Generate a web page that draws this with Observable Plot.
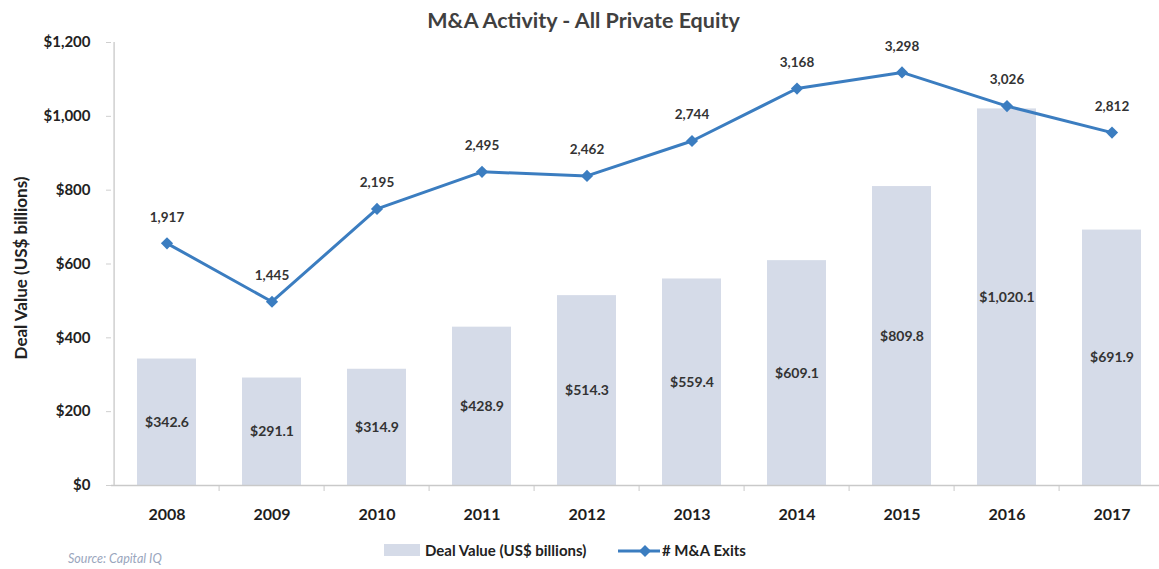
<!DOCTYPE html>
<html><head><meta charset="utf-8">
<script src="https://cdn.jsdelivr.net/npm/d3@7"></script>
<script src="https://cdn.jsdelivr.net/npm/@observablehq/plot@0.6"></script>
<style>
body{margin:0;background:#fff;font-family:Lato,"Open Sans",sans-serif;}
#wrap{position:relative;width:1159px;height:569px;overflow:hidden;}
#chart{position:absolute;left:0;top:0;}
.abs{position:absolute;white-space:nowrap;}
#title{top:7px;left:0;width:1167px;text-align:center;font-size:21.5px;font-weight:bold;color:#404040;}
#ytitle{left:20px;top:268px;transform:translate(-50%,-50%) rotate(-90deg);font-size:17px;font-weight:bold;color:#222;}
#source{left:68px;top:551px;font-size:12.5px;font-style:italic;color:#9aa6bd;}
.leg{top:541px;font-size:15px;font-weight:bold;color:#222;}
</style></head><body>
<div id="wrap">
<div id="chart"></div>
<div id="title" class="abs">M&amp;A Activity - All Private Equity</div>
<div id="ytitle" class="abs">Deal Value (US$ billions)</div>
<div class="abs" style="left:384px;top:544px;width:36px;height:12px;background:#d5dbe8;"></div>
<div class="abs leg" style="left:425px;">Deal Value (US$ billions)</div>
<svg class="abs" style="left:616px;top:541px;" width="46" height="20"><line x1="2" y1="10" x2="44" y2="10" stroke="#3b7dc0" stroke-width="3"/><path d="M29,4 L35,10 L29,16 L23,10 Z" fill="#3b7dc0"/></svg>
<div class="abs leg" style="left:662px;">#&nbsp;M&amp;A Exits</div>
<div id="source" class="abs">Source: Capital IQ</div>
</div>
<script>
const years = ["2008","2009","2010","2011","2012","2013","2014","2015","2016","2017"];
const dealValues = [342.6, 291.1, 314.9, 428.9, 514.3, 559.4, 609.1, 809.8, 1020.1, 691.9];
const exits = [1917, 1445, 2195, 2495, 2462, 2744, 3168, 3298, 3026, 2812];
const yTicks = [0, 200, 400, 600, 800, 1000, 1200];
const exitsDomain = [-40, 3540]; // hidden secondary axis

const toDollar = d3.scaleLinear().domain(exitsDomain).range([0, 1200]);
const data = years.map((y, i) => ({year: y, value: dealValues[i], exits: exits[i], exitsY: toDollar(exits[i])}));

const xRange = [110, 1168];
const step = (xRange[1] - xRange[0]) / years.length;
const barColor = "#d5dbe8";
const lineColor = "#3b7dc0";

const chart = Plot.plot({
  width: 1159, height: 569,
  marginTop: 42, marginBottom: 84, marginLeft: 111, marginRight: 0,
  style: {fontFamily: "Lato, 'Open Sans', sans-serif", background: "transparent"},
  x: {type: "band", domain: years, range: xRange, paddingInner: 0.44, paddingOuter: 0.22, label: null},
  y: {type: "linear", domain: [0, 1200], label: null},
  marks: [
    Plot.barY(data, {x: "year", y: "value", fill: barColor}),
    Plot.ruleY([0], {stroke: "#c9c9c9", strokeWidth: 1.5}),
    Plot.ruleX([years[0]], {x: d => d, y1: 0, y2: 1200, dx: -step / 2, stroke: "#cfcfcf", strokeWidth: 1.5}),
    Plot.ruleX(years.slice(1), {x: d => d, y1: 0, y2: 0, insetTop: 6, dx: -step / 2, stroke: "#c9c9c9"}),
    Plot.axisY(yTicks, {tickSize: 5, tickFormat: () => "", stroke: "#cfcfcf", label: null}),
    Plot.axisY(yTicks, {tickSize: 0, tickPadding: 21, tickFormat: d => "$" + d3.format(",")(d), fontSize: 15, fontWeight: "bold", fill: "#222", label: null}),
    Plot.axisX({tickSize: 0, tickPadding: 23, fontSize: 16, fontWeight: "bold", fill: "#1e1e1e", label: null}),
    Plot.text(data, {x: "year", y: d => d.value / 2, text: d => "$" + d3.format(",.1f")(d.value), fontSize: 14, fontWeight: "bold", fill: "#333"}),
    Plot.line(data, {x: "year", y: "exitsY", stroke: lineColor, strokeWidth: 3}),
    Plot.dot(data, {x: "year", y: "exitsY", symbol: "diamond2", r: 5.5, fill: lineColor, stroke: null}),
    Plot.text(data, {x: "year", y: "exitsY", text: d => d3.format(",")(d.exits), dy: -26, fontSize: 13.5, fontWeight: "bold", fill: "#333"})
  ]
});
document.getElementById("chart").appendChild(chart);
</script>
</body></html>
